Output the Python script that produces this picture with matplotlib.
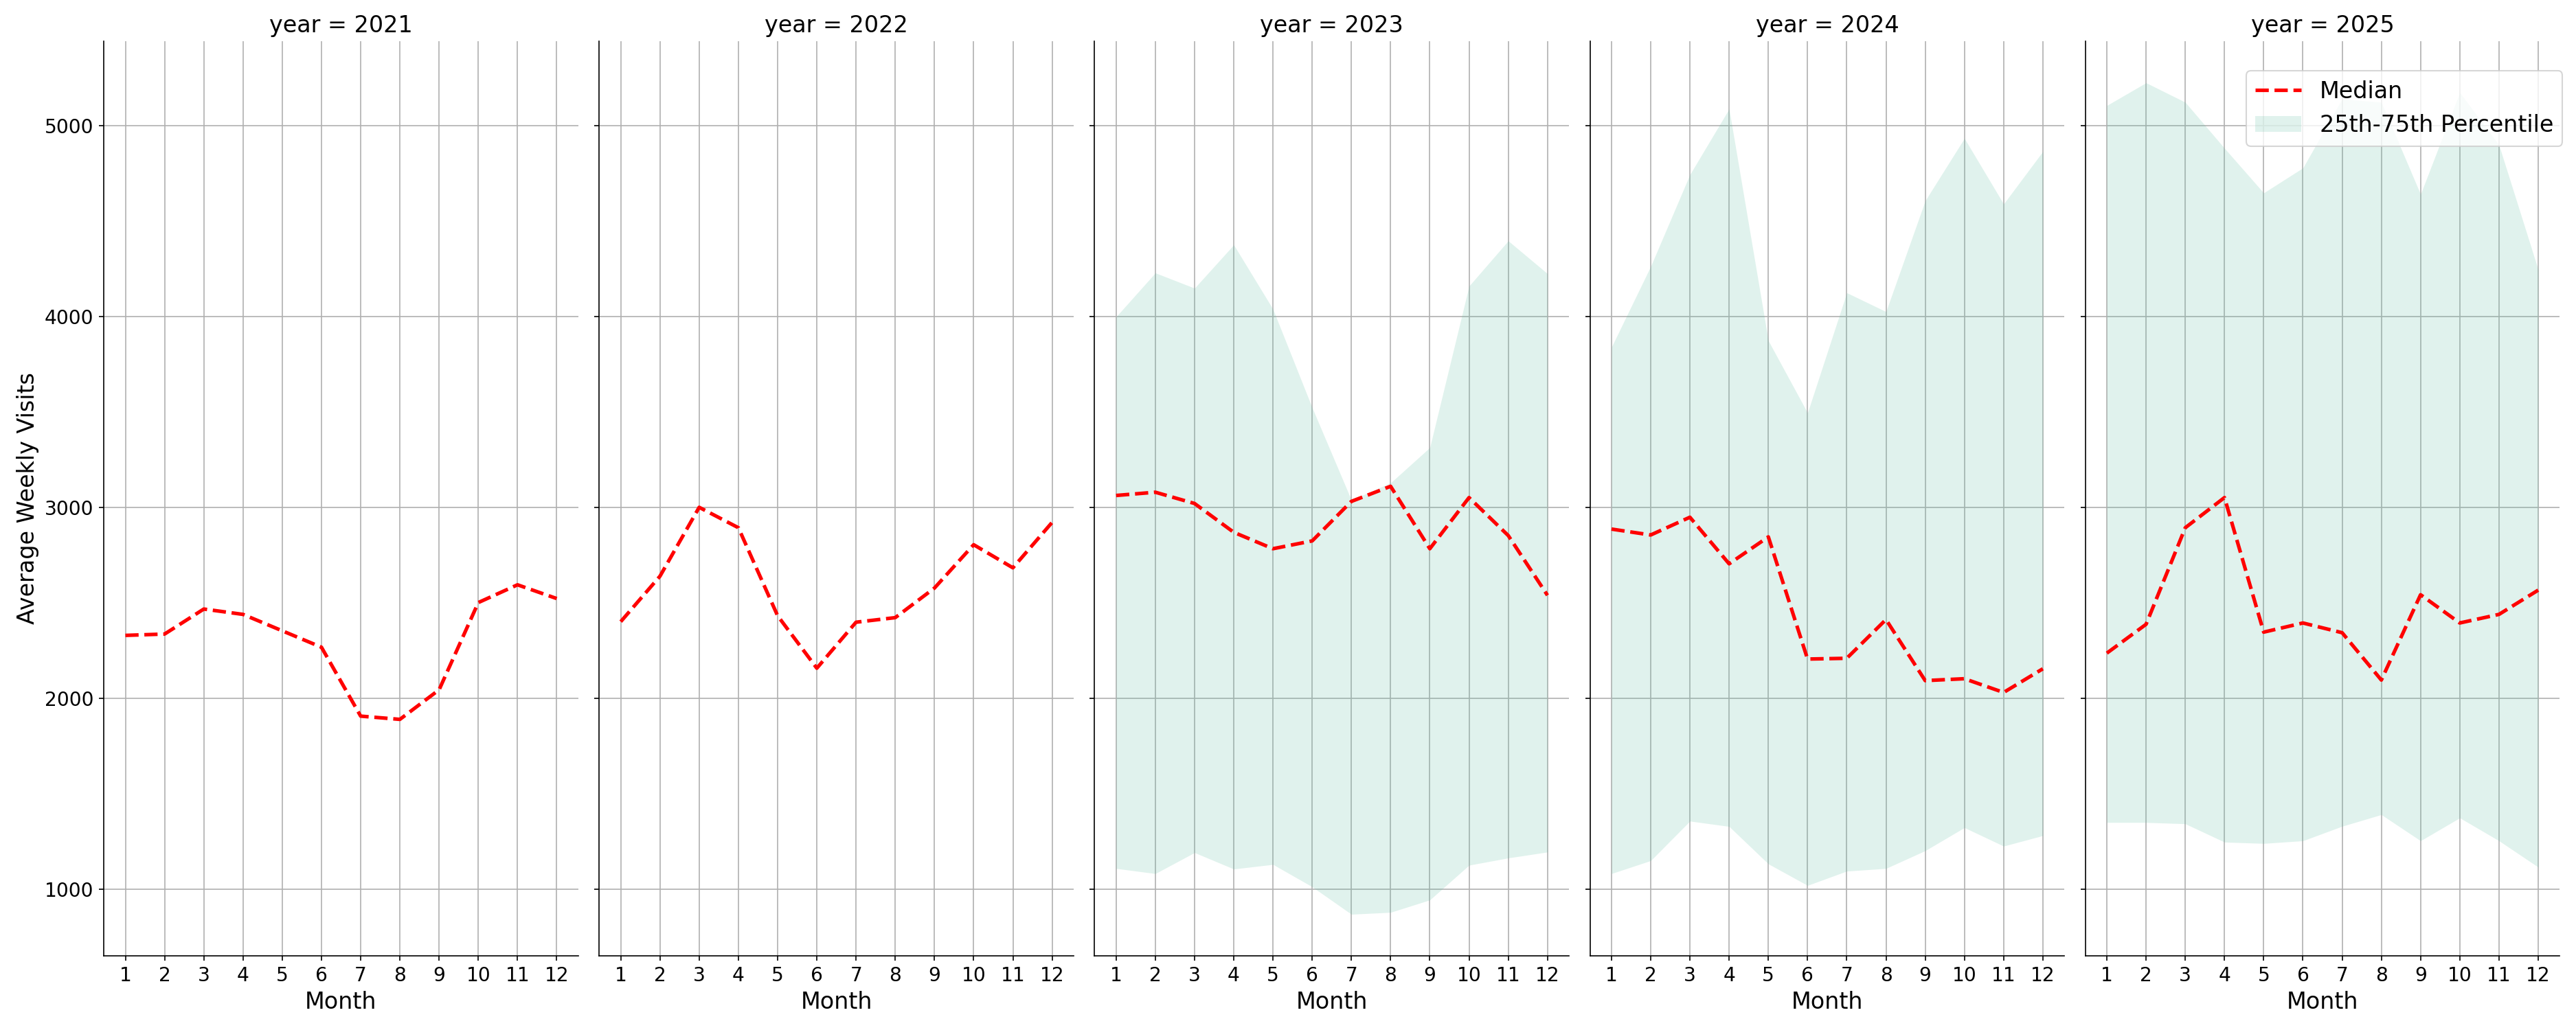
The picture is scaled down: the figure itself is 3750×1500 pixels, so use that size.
import matplotlib.pyplot as plt

months = [1, 2, 3, 4, 5, 6, 7, 8, 9, 10, 11, 12]
years = [2021, 2022, 2023, 2024, 2025]

# median of average weekly visits per month
median_2021 = [2331, 2338, 2469, 2441, 2355, 2269, 1908, 1891, 2046, 2503, 2596, 2524]
median_2022 = [2403, 2641, 3002, 2895, 2434, 2159, 2400, 2424, 2579, 2806, 2685, 2923]
median_2023 = [3064, 3081, 3022, 2871, 2785, 2826, 3033, 3112, 2785, 3053, 2854, 2541]
median_2024 = [2888, 2857, 2950, 2706, 2847, 2207, 2211, 2414, 2094, 2104, 2032, 2156]
median_2025 = [2238, 2389, 2895, 3053, 2348, 2396, 2345, 2097, 2544, 2396, 2441, 2568]

# 25th / 75th percentile (no spread for 2021 and 2022)
p25_2023 = [1110, 1083, 1193, 1107, 1131, 1014, 870, 880, 945, 1127, 1165, 1196]
p75_2023 = [4000, 4230, 4150, 4377, 4040, 3524, 3040, 3130, 3315, 4161, 4398, 4226]
p25_2024 = [1083, 1151, 1358, 1330, 1134, 1021, 1096, 1110, 1203, 1324, 1227, 1282]
p75_2024 = [3841, 4264, 4745, 5089, 3875, 3497, 4126, 4027, 4608, 4935, 4591, 4866]
p25_2025 = [1351, 1351, 1344, 1248, 1241, 1255, 1331, 1392, 1255, 1375, 1255, 1117]
p75_2025 = [5107, 5226, 5124, 4883, 4649, 4780, 5141, 5124, 4642, 5175, 4900, 4247]

medians = [median_2021, median_2022, median_2023, median_2024, median_2025]
p25s = [None, None, p25_2023, p25_2024, p25_2025]
p75s = [None, None, p75_2023, p75_2024, p75_2025]

plt.rcParams['axes.axisbelow'] = True

fig, axes = plt.subplots(1, 5, sharey=True, figsize=(25, 10), dpi=150)
fig.subplots_adjust(left=0.0403, right=0.9937, top=0.96, bottom=0.072, wspace=0.044)

for ax, year, med, lo, hi in zip(axes, years, medians, p25s, p75s):
    if lo is not None:
        ax.fill_between(months, lo, hi, color='#66c2a5', alpha=0.2, linewidth=0,
                        label='25th-75th Percentile')
    ax.plot(months, med, color='red', linestyle='--', linewidth=2.5, label='Median')
    ax.set_title(f"year = {year}", fontsize=16)
    ax.set_xlabel("Month", fontsize=16)
    ax.set_xticks(months)
    ax.set_yticks([1000, 2000, 3000, 4000, 5000])
    ax.tick_params(labelsize=13.5)
    ax.grid(True)
    ax.spines['top'].set_visible(False)
    ax.spines['right'].set_visible(False)

axes[0].set_ylabel("Average Weekly Visits", fontsize=16)

h, l = axes[-1].get_legend_handles_labels()
# Median first, band second
axes[-1].legend(h[::-1], l[::-1], loc='upper right', bbox_to_anchor=(1.03, 0.98), fontsize=16)

plt.savefig("out.png", dpi=150)
